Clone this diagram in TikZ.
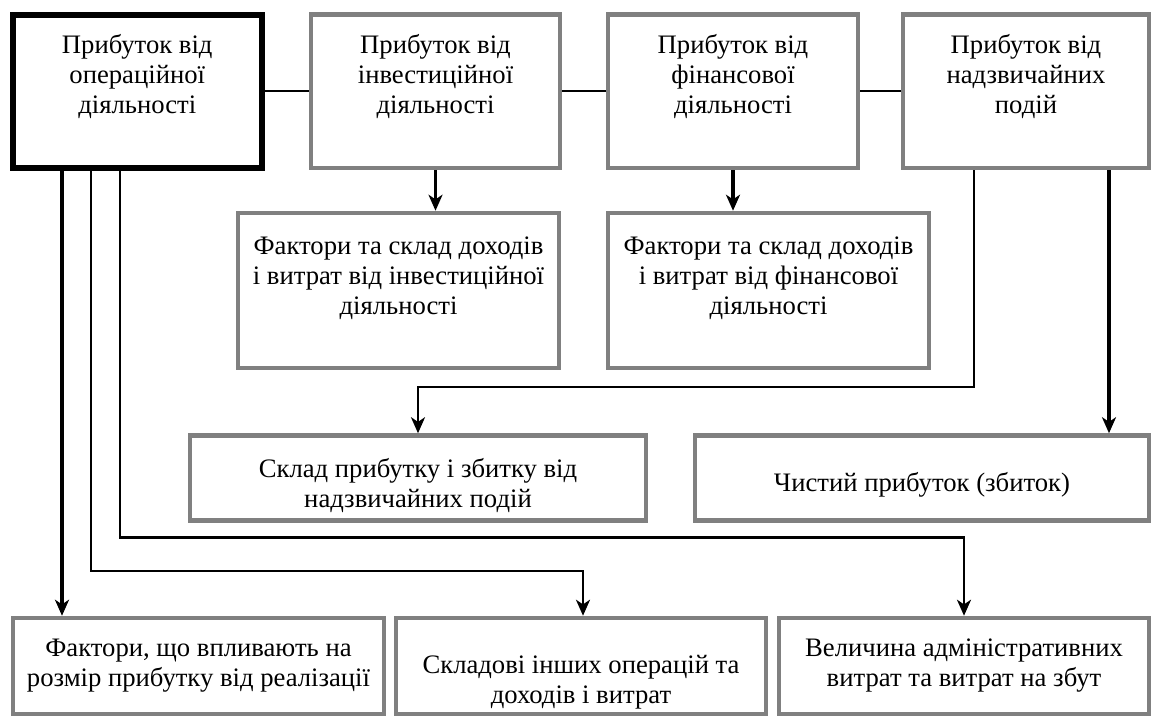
\documentclass[tikz,border=0pt]{standalone}
\usepackage{fontspec}
\setmainfont{Liberation Serif}
\usetikzlibrary{arrows.meta}
\definecolor{boxgray}{RGB}{128,128,128}
\begin{document}
\begin{tikzpicture}[x=0.75pt,y=-0.75pt,
  sz/.style 2 args={minimum width=#1*0.75pt,minimum height=#2*0.75pt},
  box/.style={draw=boxgray, line width=3.4pt, fill=white, align=center, inner sep=0pt,
    font=\fontsize{20}{22.5}\selectfont},
  mainbox/.style={box, draw=black, line width=4.5pt},
  link/.style={draw=black, line width=1.6pt},
  tip/.style={-{Stealth[length=12pt,width=10.5pt,inset=3.5pt]}},
  arr/.style={draw=black, line width=2.6pt, tip},
  arrthin/.style={draw=black, line width=1.9pt, tip}
]
\useasboundingbox (0,0) rectangle (1155,718);

% top row
\node[mainbox, sz={249.5}{153.5}] (A) at (137.25,91.25) {Прибуток від\\операційної\\діяльності\\[4pt]\mbox{}};
\node[box, sz={249}{153.5}] (B) at (435.5,91.25) {Прибуток від\\інвестиційної\\діяльності\\[4pt]\mbox{}};
\node[box, sz={250}{153.5}] (C) at (733,91.25) {Прибуток від\\фінансової\\діяльності\\[4pt]\mbox{}};
\node[box, sz={246}{153.5}] (D) at (1026,91.25) {Прибуток від\\надзвичайних\\подій\\[4pt]\mbox{}};

% second row
\node[box, sz={321}{155}] (E) at (398.5,290.5) {Фактори та склад доходів\\і витрат від інвестиційної\\діяльності\\\mbox{}};
\node[box, sz={321}{155}] (F) at (768.5,290.5) {Фактори та склад доходів\\і витрат від фінансової\\діяльності\\\mbox{}};

% third row
\node[box, sz={456}{85}] (G) at (418,478) {\rule{0pt}{25pt}Склад прибутку і збитку від\\надзвичайних подій};
\node[box, sz={454}{85}] (H) at (922,478) {\rule{0pt}{25pt}Чистий прибуток (збиток)};

% bottom row
\node[box, sz={371}{96}] (I) at (198.5,666) {Фактори, що впливають на\\розмір прибутку від реалізації};
\node[box, sz={370}{96}] (J) at (581,666) {\strut\\Складові інших операцій та\\доходів і витрат};
\node[box, sz={370}{96}] (K) at (964,666) {Величина адміністративних\\витрат та витрат на збут};

% top connectors
\draw[link] (A.east) -- (B.west);
\draw[link] (B.east) -- (C.west);
\draw[link] (C.east) -- (D.west);

% arrows to second row
\draw[arr] (B.south) -- (B.south |- E.north);
\draw[arr] (C.south) -- (C.south |- F.north);

% from D
\coordinate (dg) at (974,387);
\coordinate (dh) at (1109,0);
\draw[arrthin] (dg |- D.south) -- (dg) -| (G.north);
\draw[arr] (dh |- D.south) -- (dh |- H.north);

% from A
\coordinate (a1) at (62,0);
\coordinate (a2) at (91,571);
\coordinate (a3) at (120,537.5);
\coordinate (jx) at (583,0);
\draw[arr] (a1 |- A.south) -- (a1 |- I.north);
\draw[arrthin] (a2 |- A.south) -- (a2) -| (jx |- J.north);
\draw[arrthin] (a3 |- A.south) -- (a3) -| (K.north);
\end{tikzpicture}
\end{document}
